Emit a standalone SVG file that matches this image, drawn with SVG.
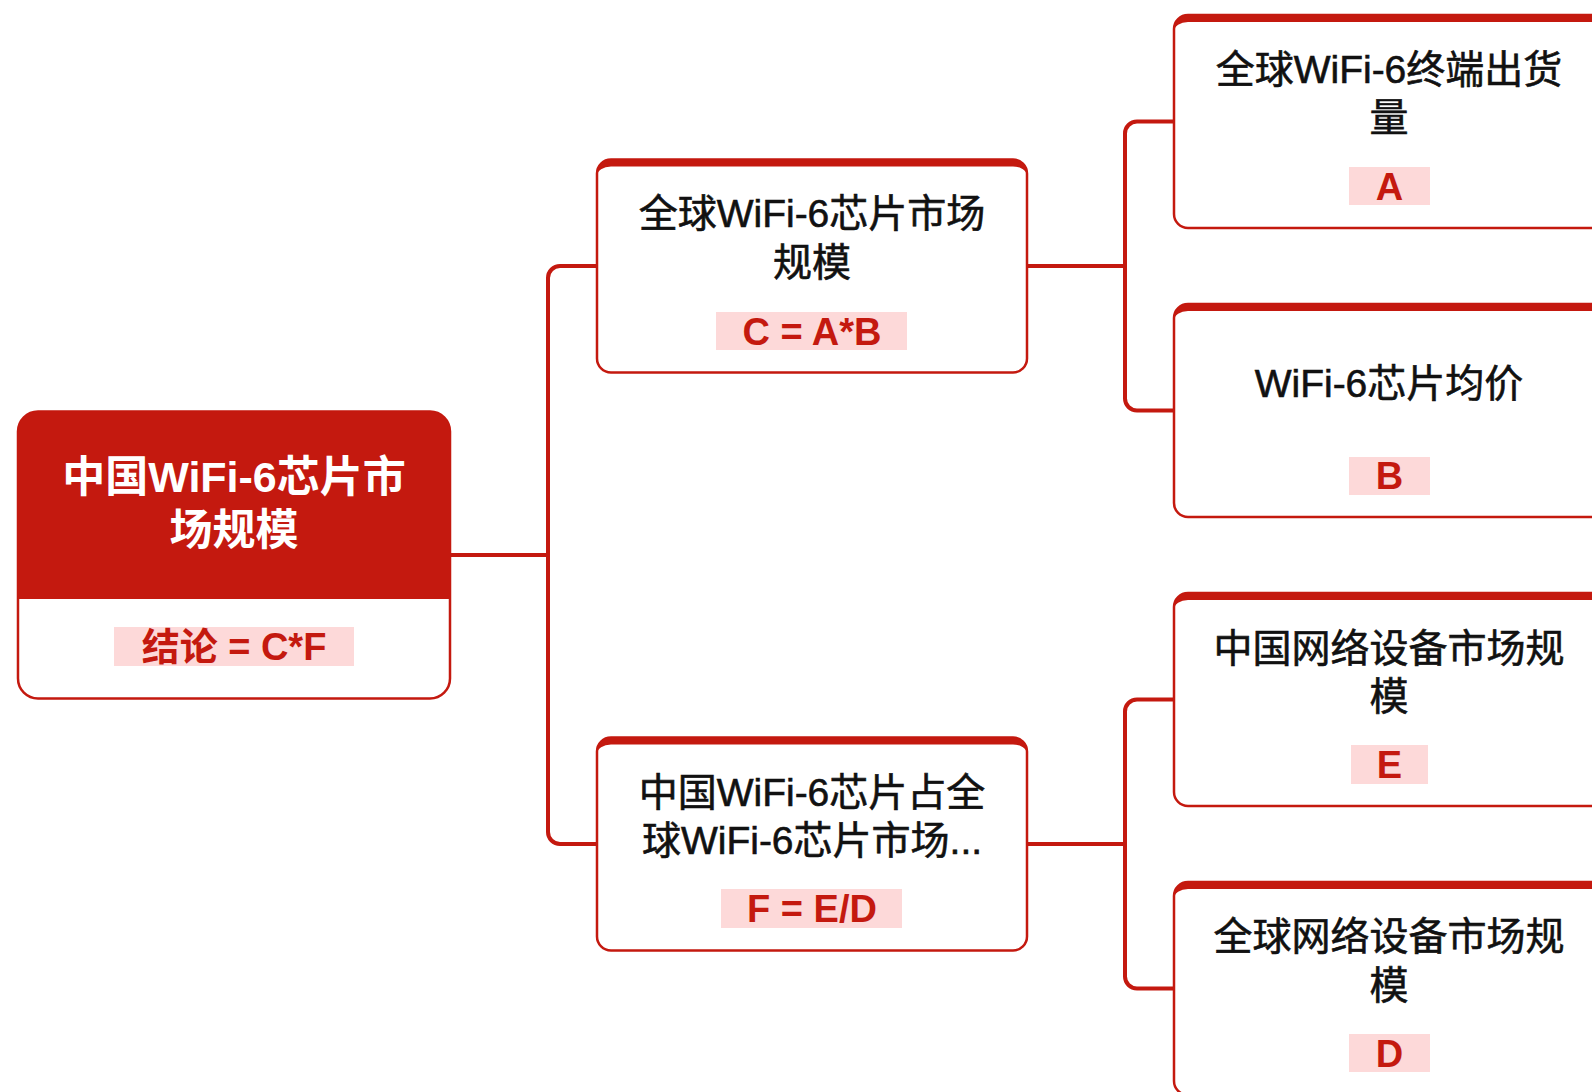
<svg xmlns="http://www.w3.org/2000/svg" width="1592" height="1092" viewBox="0 0 1592 1092">
<style>
.box{fill:#ffffff;stroke:#C4190F;stroke-width:2.5}
.bar{fill:#C4190F}
.t{font-family:"Liberation Sans","Noto Sans CJK SC",sans-serif;font-size:39px;fill:#111111;stroke:#111111;stroke-width:0.6;text-anchor:middle;dominant-baseline:central}
.rt{font-family:"Liberation Sans","Noto Sans CJK SC",sans-serif;font-size:43px;font-weight:bold;fill:#ffffff;text-anchor:middle;dominant-baseline:central}
.lb{fill:#FDD9D9}
.lt{font-family:"Liberation Sans","Noto Sans CJK SC",sans-serif;font-size:38px;font-weight:bold;fill:#C4190F;text-anchor:middle;dominant-baseline:central}
.edge{fill:none;stroke:#C4190F;stroke-width:4}
</style>
<rect width="1592" height="1092" fill="#ffffff"/>
<g id="connectors">
<path class="edge" d="M450,555 H548 V278 A12,12 0 0 1 560,266 H597"/>
<path class="edge" d="M450,555 H548 V832 A12,12 0 0 0 560,844 H597"/>
<path class="edge" d="M1027,266 H1125 V133.5 A12,12 0 0 1 1137,121.5 H1174"/>
<path class="edge" d="M1027,266 H1125 V398.5 A12,12 0 0 0 1137,410.5 H1174"/>
<path class="edge" d="M1027,844 H1125 V711.5 A12,12 0 0 1 1137,699.5 H1174"/>
<path class="edge" d="M1027,844 H1125 V976.5 A12,12 0 0 0 1137,988.5 H1174"/>
</g>
<g id="root">
<rect class="box" x="18" y="411.5" width="432" height="287" rx="20"/>
<path class="bar" d="M18,599 V431.5 A20,20 0 0 1 38,411.5 H430 A20,20 0 0 1 450,431.5 V599 Z"/>
<text class="rt" x="234" y="477">中国WiFi-6芯片市</text>
<text class="rt" x="234" y="530">场规模</text>
<rect class="lb" x="114" y="627" width="240" height="39"/>
<text class="lt" x="234" y="647">结论 = C*F</text>
</g>
<g id="n_c">
<rect class="box" x="597" y="159.5" width="430" height="213" rx="14"/>
<path class="bar" d="M597,173.5 A14,14 0 0 1 611,159.5 H1013 A14,14 0 0 1 1027,173.5 V175.5 A14,9 0 0 0 1013,166.5 H611 A14,9 0 0 0 597,175.5 Z"/>
<text class="t" x="812" y="213.5">全球WiFi-6芯片市场</text>
<text class="t" x="812" y="262.5">规模</text>
<rect class="lb" x="716" y="312" width="191" height="38"/>
<text class="lt" x="812" y="331.5">C = A*B</text>
</g>
<g id="n_f">
<rect class="box" x="597" y="737.5" width="430" height="213" rx="14"/>
<path class="bar" d="M597,751.5 A14,14 0 0 1 611,737.5 H1013 A14,14 0 0 1 1027,751.5 V753.5 A14,9 0 0 0 1013,744.5 H611 A14,9 0 0 0 597,753.5 Z"/>
<text class="t" x="812" y="792">中国WiFi-6芯片占全</text>
<text class="t" x="812" y="840.5">球WiFi-6芯片市场...</text>
<rect class="lb" x="721" y="889" width="181" height="39"/>
<text class="lt" x="812" y="908.5">F = E/D</text>
</g>
<g id="n_a">
<rect class="box" x="1174" y="15" width="430" height="213" rx="14"/>
<path class="bar" d="M1174,29 A14,14 0 0 1 1188,15 H1590 A14,14 0 0 1 1604,29 V31 A14,9 0 0 0 1590,22 H1188 A14,9 0 0 0 1174,31 Z"/>
<text class="t" x="1389" y="69">全球WiFi-6终端出货</text>
<text class="t" x="1389" y="117.5">量</text>
<rect class="lb" x="1349" y="167" width="81" height="38"/>
<text class="lt" x="1389.5" y="186.5">A</text>
</g>
<g id="n_b">
<rect class="box" x="1174" y="304" width="430" height="213" rx="14"/>
<path class="bar" d="M1174,318 A14,14 0 0 1 1188,304 H1590 A14,14 0 0 1 1604,318 V320 A14,9 0 0 0 1590,311 H1188 A14,9 0 0 0 1174,320 Z"/>
<text class="t" x="1389" y="383">WiFi-6芯片均价</text>
<rect class="lb" x="1349" y="457" width="81" height="38"/>
<text class="lt" x="1389.5" y="476">B</text>
</g>
<g id="n_e">
<rect class="box" x="1174" y="593" width="430" height="213" rx="14"/>
<path class="bar" d="M1174,607 A14,14 0 0 1 1188,593 H1590 A14,14 0 0 1 1604,607 V609 A14,9 0 0 0 1590,600 H1188 A14,9 0 0 0 1174,609 Z"/>
<text class="t" x="1389" y="648">中国网络设备市场规</text>
<text class="t" x="1389" y="696.5">模</text>
<rect class="lb" x="1351" y="745" width="77" height="39"/>
<text class="lt" x="1389.5" y="764.5">E</text>
</g>
<g id="n_d">
<rect class="box" x="1174" y="882" width="430" height="213" rx="14"/>
<path class="bar" d="M1174,896 A14,14 0 0 1 1188,882 H1590 A14,14 0 0 1 1604,896 V898 A14,9 0 0 0 1590,889 H1188 A14,9 0 0 0 1174,898 Z"/>
<text class="t" x="1389" y="936.5">全球网络设备市场规</text>
<text class="t" x="1389" y="985">模</text>
<rect class="lb" x="1349" y="1034" width="81" height="38"/>
<text class="lt" x="1389.5" y="1053.5">D</text>
</g>
</svg>
